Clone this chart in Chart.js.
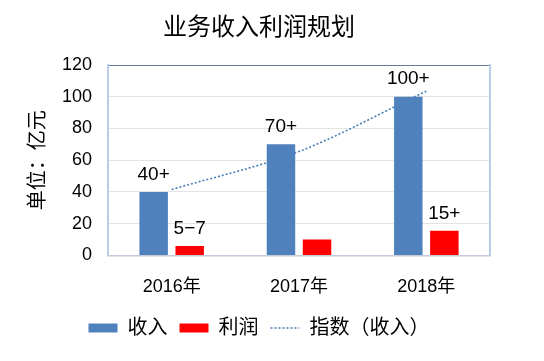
<!DOCTYPE html>
<html lang="zh">

<head>
    <meta charset="UTF-8">
    <script src="https://cdn.jsdelivr.net/npm/chart.js"></script>
    <title>业务收入利润规划</title>
    <style>
        html, body { margin: 0; padding: 0; background: #fff; }
        .grafico { width: 544px; height: 361px; }
    </style>
</head>

<body>
    <div class="grafico">
        <canvas id="graficoPlano"></canvas>
    </div>
</body>

</html>

<script>
    // dados
    const anos = ['2016年', '2017年', '2018年'];
    const receita = [40, 70, 100];
    const lucro = [6, 10, 15.5];
    const tendencia = [41.5, 65.5, 103.5];
    const rotulosReceita = ['40+', '70+', '100+'];
    const rotulosLucro = ['5−7', '', '15+'];
    const ticksY = [0, 20, 40, 60, 80, 100, 120];

    const fonteLatina = 'Arial, "Liberation Sans", "Noto Sans CJK SC", sans-serif';

    // escreve os rótulos acima das barras
    const rotulosPlugin = {
        id: 'rotulos',
        afterDatasetsDraw(chart) {
            const ctx = chart.ctx;
            ctx.save();
            ctx.font = '19px ' + fonteLatina;
            ctx.fillStyle = '#000';
            ctx.textAlign = 'center';
            ctx.textBaseline = 'middle';
            [rotulosReceita, rotulosLucro].forEach((rotulos, i) => {
                chart.getDatasetMeta(i).data.forEach((barra, j) => {
                    if (rotulos[j]) ctx.fillText(rotulos[j], barra.x, barra.y - 17.5);
                });
            });
            ctx.restore();
        }
    };

    const grafico = new Chart(document.getElementById('graficoPlano'), {
        type: 'bar',
        data: {
            labels: anos,
            datasets: [{
                label: '收入',
                data: receita,
                backgroundColor: '#4f81bd',
                borderWidth: 0,
                categoryPercentage: 0.566,
                barPercentage: 0.79
            }, {
                label: '利润',
                data: lucro,
                backgroundColor: '#ff0000',
                borderWidth: 0,
                categoryPercentage: 0.566,
                barPercentage: 0.79
            }, {
                type: 'line',
                label: '指数（收入）',
                data: tendencia,
                borderColor: '#4a7ebb',
                borderWidth: 1.6,
                borderDash: [2, 2],
                pointRadius: 0,
                cubicInterpolationMode: 'monotone',
                fill: false
            }]
        },
        options: {
            responsive: true,
            maintainAspectRatio: false,
            animation: false,
            layout: {
                padding: { left: 0, right: 26, top: 0, bottom: 13 }
            },
            plugins: {
                title: {
                    display: true,
                    text: '业务收入利润规划',
                    color: '#000',
                    font: { size: 24, weight: 'normal', family: fonteLatina },
                    padding: { top: 13.6, bottom: 22.6 }
                },
                legend: {
                    position: 'bottom',
                    labels: {
                        color: '#000',
                        font: { size: 20, family: fonteLatina },
                        usePointStyle: true,
                        pointStyleWidth: 29,
                        boxHeight: 9,
                        padding: 12,
                        generateLabels(chart) {
                            const itens = Chart.defaults.plugins.legend.labels.generateLabels(chart);
                            itens.forEach((item) => {
                                if (item.datasetIndex === 2) {
                                    item.pointStyle = 'line';
                                    item.lineWidth = 1.6;
                                    item.lineDash = [2, 2];
                                    item.strokeStyle = '#4a7ebb';
                                } else {
                                    item.pointStyle = 'rect';
                                    item.lineWidth = 0;
                                }
                            });
                            return itens;
                        }
                    }
                },
                tooltip: { enabled: false }
            },
            scales: {
                x: {
                    afterFit(escala) { escala.height = 50.6; },
                    grid: { display: false, drawTicks: false },
                    border: { color: '#c3ccd8', width: 1.5 },
                    ticks: {
                        color: '#000',
                        font: { size: 18, family: fonteLatina },
                        padding: 21
                    }
                },
                y: {
                    min: 0,
                    max: 120,
                    afterFit(escala) { escala.width = 108; },
                    afterBuildTicks(escala) { escala.ticks = ticksY.map(v => ({ value: v })); },
                    grid: {
                        drawTicks: false,
                        color: (c) => c.tick && c.tick.value === 120 ? '#5f7f9c' : '#e3e3e3'
                    },
                    border: { color: '#b9cde5', width: 2 },
                    ticks: {
                        color: '#000',
                        font: { size: 18, family: fonteLatina },
                        padding: 16
                    },
                    title: {
                        display: true,
                        text: '单位：亿元',
                        color: '#000',
                        font: { size: 20, family: fonteLatina },
                        padding: { top: 26, bottom: 0 }
                    }
                },
                direita: {
                    position: 'right',
                    afterFit(escala) { escala.width = 28; },
                    grid: { display: false },
                    border: { color: '#b9cde5', width: 2 },
                    ticks: { display: false }
                }
            }
        },
        plugins: [rotulosPlugin]
    });
</script>
